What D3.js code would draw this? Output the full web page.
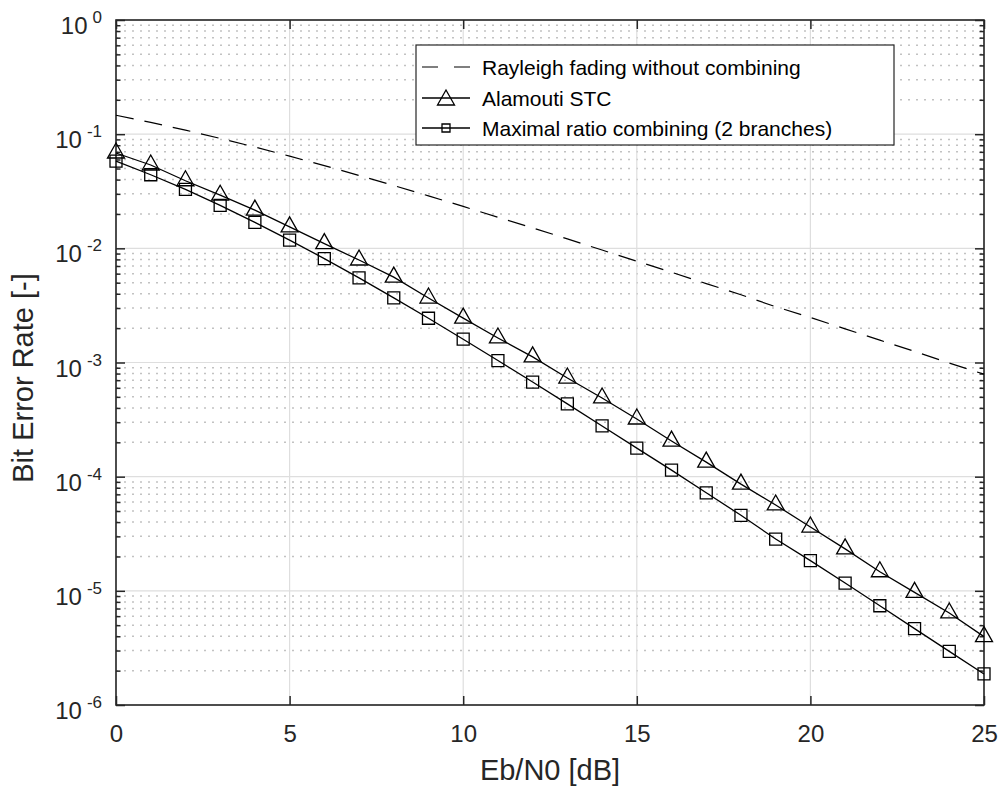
<!DOCTYPE html>
<html lang="en">
<head>
    <meta charset="UTF-8">
    <title>Bit Error Rate</title>
    <style>
        html, body {
            margin: 0;
            padding: 0;
            background: #ffffff;
        }

        #graph1 {
            display: block;
            font-family: "Liberation Sans", Arial, Helvetica, sans-serif;
        }
    </style>
</head>
<body>
<svg id="graph1" width="999" height="787"></svg>
<script src="https://cdnjs.cloudflare.com/ajax/libs/d3/7.8.5/d3.min.js" charset="utf-8"></script>
<script>
    "use strict"

    /* data */
    const ebn0 = [0, 1, 2, 3, 4, 5, 6, 7, 8, 9, 10, 11, 12, 13, 14, 15, 16, 17, 18, 19, 20, 21, 22, 23, 24, 25];

    const rayleigh = [0.1464, 0.1267, 0.1085, 0.0919, 0.0771, 0.0642, 0.0530, 0.0435, 0.0355, 0.0288,
        0.0233, 0.0187, 0.0151, 0.0121, 0.00966, 0.00772, 0.00617, 0.00491, 0.00392, 0.00308,
        0.00248, 0.00197, 0.00157, 0.00125, 0.00099, 0.00079];

    const alamouti = [0.0684, 0.0537, 0.0391, 0.0292, 0.0216, 0.0154, 0.0110, 0.0079, 0.0056, 0.00367,
        0.00245, 0.00164, 0.00112, 0.000731, 0.000489, 0.00032, 0.000205, 0.000134, 8.6e-5, 5.65e-5,
        3.62e-5, 2.33e-5, 1.47e-5, 9.7e-6, 6.4e-6, 3.97e-6];

    const mrc = [0.0581, 0.0441, 0.0328, 0.0238, 0.0169, 0.0118, 0.00813, 0.00551, 0.00368, 0.00244,
        0.00160, 0.00104, 0.000674, 0.000434, 0.000278, 0.000178, 0.000114, 7.22e-5, 4.59e-5, 2.84e-5,
        1.84e-5, 1.17e-5, 7.4e-6, 4.67e-6, 2.95e-6, 1.87e-6];

    const xTicks = [0, 5, 10, 15, 20, 25];
    const yExponents = [0, -1, -2, -3, -4, -5, -6];
    const minorMantissa = [2, 3, 4, 5, 6, 7, 8, 9];

    const legendLabels = ["Rayleigh fading without combining", "Alamouti STC", "Maximal ratio combining (2 branches)"];

    const xLabel = "Eb/N0 [dB]";
    const yLabel = "Bit Error Rate [-]";

    /* plot box */
    const boxLeft = 116, boxRight = 984, boxTop = 20, boxBottom = 705;
    const axisColor = "#262626";

    const svg = d3.select("#graph1");

    const x = d3.scaleLinear().domain([0, 25]).range([boxLeft, boxRight]);
    const y = d3.scaleLog().domain([1e-6, 1]).range([boxBottom, boxTop]);

    const decades = yExponents.map(e => Math.pow(10, e));
    const minors = [];
    yExponents.slice(1).forEach(e => {
        minorMantissa.forEach(m => minors.push(m * Math.pow(10, e)));
    });

    /* grid */
    const grid = svg.append("g");

    grid.selectAll("line.minor")
        .data(minors)
        .enter()
        .append("line")
        .attr("class", "minor")
        .attr("x1", boxLeft)
        .attr("x2", boxRight)
        .attr("y1", d => y(d))
        .attr("y2", d => y(d))
        .attr("stroke", "#c2c2c2")
        .attr("stroke-width", 1.5)
        .attr("stroke-dasharray", "2,6");

    grid.selectAll("line.hmajor")
        .data(decades)
        .enter()
        .append("line")
        .attr("class", "hmajor")
        .attr("x1", boxLeft)
        .attr("x2", boxRight)
        .attr("y1", d => y(d))
        .attr("y2", d => y(d))
        .attr("stroke", "#dedede")
        .attr("stroke-width", 1.2);

    grid.selectAll("line.vmajor")
        .data(xTicks)
        .enter()
        .append("line")
        .attr("class", "vmajor")
        .attr("x1", d => x(d))
        .attr("x2", d => x(d))
        .attr("y1", boxTop)
        .attr("y2", boxBottom)
        .attr("stroke", "#dedede")
        .attr("stroke-width", 1.2);

    /* axes (ticks point inwards, box on) */
    const styleAxis = g => {
        g.select(".domain").remove();
        g.selectAll(".tick line").attr("stroke", axisColor).attr("stroke-width", 1.5);
    };

    svg.append("g")
        .attr("transform", `translate(0,${boxBottom})`)
        .call(d3.axisBottom(x).tickValues(xTicks).tickSizeInner(-9).tickSizeOuter(0).tickPadding(20))
        .call(styleAxis)
        .call(g => g.selectAll(".tick text")
            .attr("font-size", 24)
            .attr("font-family", "Liberation Sans, Arial, sans-serif")
            .attr("fill", axisColor));

    svg.append("g")
        .attr("transform", `translate(0,${boxTop})`)
        .call(d3.axisTop(x).tickValues(xTicks).tickSizeInner(-9).tickSizeOuter(0).tickFormat(""))
        .call(styleAxis);

    svg.append("g")
        .attr("transform", `translate(${boxLeft},0)`)
        .call(d3.axisLeft(y).tickValues(decades).tickSizeInner(-9).tickSizeOuter(0).tickFormat(""))
        .call(styleAxis);

    svg.append("g")
        .attr("transform", `translate(${boxLeft},0)`)
        .call(d3.axisLeft(y).tickValues(minors).tickSizeInner(-4.5).tickSizeOuter(0).tickFormat(""))
        .call(styleAxis);

    svg.append("g")
        .attr("transform", `translate(${boxRight},0)`)
        .call(d3.axisRight(y).tickValues(decades).tickSizeInner(-9).tickSizeOuter(0).tickFormat(""))
        .call(styleAxis);

    svg.append("g")
        .attr("transform", `translate(${boxRight},0)`)
        .call(d3.axisRight(y).tickValues(minors).tickSizeInner(-4.5).tickSizeOuter(0).tickFormat(""))
        .call(styleAxis);

    // y tick labels as 10^n
    const yLab = svg.append("g")
        .selectAll("text")
        .data(yExponents)
        .enter()
        .append("text")
        .attr("x", 102)
        .attr("y", d => y(Math.pow(10, d)) + 14)
        .attr("text-anchor", "end")
        .attr("fill", axisColor);
    yLab.append("tspan")
        .attr("font-size", 24)
        .text("10");
    yLab.append("tspan")
        .attr("font-size", 17)
        .attr("dx", 5)
        .attr("dy", -11)
        .text(d => d === 0 ? "0" : String(d));

    // box
    svg.append("rect")
        .attr("x", boxLeft)
        .attr("y", boxTop)
        .attr("width", boxRight - boxLeft)
        .attr("height", boxBottom - boxTop)
        .attr("fill", "none")
        .attr("stroke", axisColor)
        .attr("stroke-width", 1.6);

    /* axis labels */
    svg.append("text")
        .attr("x", (boxLeft + boxRight) / 2)
        .attr("y", 780)
        .attr("text-anchor", "middle")
        .attr("font-size", 29)
        .attr("fill", axisColor)
        .text(xLabel);

    svg.append("text")
        .attr("transform", `translate(33,378) rotate(-90)`)
        .attr("text-anchor", "middle")
        .attr("font-size", 29)
        .attr("fill", axisColor)
        .text(yLabel);

    /* curves */
    const line = d3.line()
        .x(d => x(d[0]))
        .y(d => y(d[1]));

    const triangle = (cx, cy) => `M${cx},${cy - 10}L${cx + 8.5},${cy + 5}L${cx - 8.5},${cy + 5}Z`;
    const square = (cx, cy, s) => `M${cx - s / 2},${cy - s / 2}h${s}v${s}h${-s}Z`;

    svg.append("path")
        .datum(d3.zip(ebn0, rayleigh))
        .attr("d", line)
        .attr("fill", "none")
        .attr("stroke", "#000")
        .attr("stroke-width", 1.2)
        .attr("stroke-dasharray", "18,11");

    svg.append("path")
        .datum(d3.zip(ebn0, alamouti))
        .attr("d", line)
        .attr("fill", "none")
        .attr("stroke", "#000")
        .attr("stroke-width", 1.3);

    svg.append("path")
        .datum(d3.zip(ebn0, mrc))
        .attr("d", line)
        .attr("fill", "none")
        .attr("stroke", "#000")
        .attr("stroke-width", 1.3);

    svg.append("g")
        .selectAll("path")
        .data(d3.zip(ebn0, alamouti))
        .enter()
        .append("path")
        .attr("d", d => triangle(x(d[0]), y(d[1])))
        .attr("fill", "none")
        .attr("stroke", "#000")
        .attr("stroke-width", 1.3);

    svg.append("g")
        .selectAll("path")
        .data(d3.zip(ebn0, mrc))
        .enter()
        .append("path")
        .attr("d", d => square(x(d[0]), y(d[1]), 12))
        .attr("fill", "none")
        .attr("stroke", "#000")
        .attr("stroke-width", 1.3);

    /* legend */
    const lg = svg.append("g");
    lg.append("rect")
        .attr("x", 416)
        .attr("y", 45)
        .attr("width", 478)
        .attr("height", 100)
        .attr("fill", "#fff")
        .attr("stroke", axisColor)
        .attr("stroke-width", 1.2);

    const rowY = [67, 98, 128];

    lg.append("line")
        .attr("x1", 422).attr("x2", 470)
        .attr("y1", rowY[0]).attr("y2", rowY[0])
        .attr("stroke", "#000")
        .attr("stroke-width", 1.2)
        .attr("stroke-dasharray", "16,16");

    [1, 2].forEach(i => {
        lg.append("line")
            .attr("x1", 422).attr("x2", 470)
            .attr("y1", rowY[i]).attr("y2", rowY[i])
            .attr("stroke", "#000")
            .attr("stroke-width", 1.3);
    });

    lg.append("path")
        .attr("d", triangle(446, rowY[1] + 2))
        .attr("fill", "none")
        .attr("stroke", "#000")
        .attr("stroke-width", 1.3);

    lg.append("path")
        .attr("d", square(446, rowY[2], 8))
        .attr("fill", "none")
        .attr("stroke", "#000")
        .attr("stroke-width", 1.3);

    lg.selectAll("text")
        .data(legendLabels)
        .enter()
        .append("text")
        .attr("x", 482)
        .attr("y", (d, i) => rowY[i] + 8)
        .attr("font-size", 21)
        .attr("fill", "#000")
        .text(d => d);
</script>
</body>
</html>
